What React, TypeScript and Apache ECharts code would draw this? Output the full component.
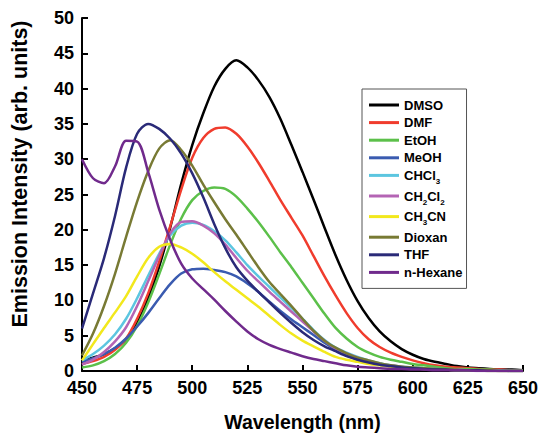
import React, { useEffect, useRef } from "react";
import * as echarts from "echarts";

const wavelengths = [
  450, 455, 460, 465, 470, 475, 480, 485, 490, 495, 500, 505, 510, 515, 520, 525, 530, 535, 540, 545,
  550, 555, 560, 565, 570, 575, 580, 585, 590, 595, 600, 605, 610, 615, 620, 625, 630, 635, 640, 645, 650,
];

const dmso = [
  1.5, 1.9, 2.4, 3.2, 4.5, 6.8, 10.3, 14.8, 20.3, 26.5, 32.0, 36.5, 40.3, 42.8, 44.0, 43.0, 41.2, 38.8, 35.7, 32.0,
  28.2, 24.3, 20.3, 16.4, 12.9, 9.9, 7.5, 5.6, 4.2, 3.1, 2.3, 1.7, 1.3, 1.0, 0.7, 0.5, 0.4, 0.3, 0.2, 0.2, 0.1,
];
const dmf = [
  1.0, 1.4, 2.0, 3.0, 4.6, 7.4, 11.0, 15.5, 20.5, 25.7, 30.2, 33.0, 34.3, 34.5, 33.6, 31.8, 29.5, 26.9, 24.2, 21.7,
  19.2, 16.3, 13.4, 10.7, 8.2, 6.1, 4.5, 3.4, 2.6, 2.0, 1.5, 1.1, 0.8, 0.6, 0.5, 0.4, 0.3, 0.2, 0.2, 0.1, 0.1,
];
const etoh = [
  0.5, 0.8, 1.4, 2.4, 4.0, 6.4, 9.7, 13.7, 17.9, 21.6, 24.2, 25.5, 26.0, 25.8, 24.7, 23.0, 21.1, 19.0, 16.8, 14.7,
  12.5, 10.3, 8.1, 6.1, 4.6, 3.4, 2.6, 2.0, 1.6, 1.3, 1.0, 0.8, 0.6, 0.4, 0.3, 0.3, 0.2, 0.2, 0.1, 0.1, 0.1,
];
const meoh = [
  1.3, 1.8, 2.4, 3.3, 4.6, 6.3, 8.2, 10.3, 12.3, 13.8, 14.4, 14.5, 14.3, 14.0, 13.4, 12.4, 11.2, 9.8, 8.5, 7.3,
  6.2, 5.1, 4.0, 3.0, 2.2, 1.6, 1.2, 0.9, 0.7, 0.5, 0.4, 0.3, 0.2, 0.2, 0.1, 0.1, 0.1, 0.1, 0.1, 0.0, 0.0,
];
const chcl3 = [
  1.5, 2.4, 3.6, 5.2, 7.4, 10.3, 13.5, 16.6, 19.2, 20.6, 21.0, 20.7, 19.8, 18.5, 16.8, 15.0, 13.4, 11.9, 10.4, 8.9,
  7.4, 5.8, 4.4, 3.3, 2.6, 2.0, 1.5, 1.1, 0.8, 0.6, 0.5, 0.4, 0.3, 0.2, 0.2, 0.1, 0.1, 0.1, 0.1, 0.0, 0.0,
];
const ch2cl2 = [
  0.9, 1.6, 2.7, 4.2, 6.2, 9.2, 12.7, 16.3, 19.5, 21.1, 21.2, 20.6, 19.5, 17.9, 16.0, 14.2, 12.7, 11.2, 9.8, 8.4,
  7.0, 5.6, 4.3, 3.2, 2.5, 1.9, 1.4, 1.0, 0.8, 0.6, 0.4, 0.3, 0.3, 0.2, 0.2, 0.1, 0.1, 0.1, 0.0, 0.0, 0.0,
];
const ch3cn = [
  1.5, 3.8, 6.1, 8.3, 10.6, 13.4, 16.0, 17.6, 18.0, 17.5, 16.6, 15.4, 14.0, 12.7, 11.5, 10.3, 9.1, 7.8, 6.5, 5.3,
  4.3, 3.5, 2.7, 2.0, 1.6, 1.3, 1.0, 0.8, 0.6, 0.5, 0.4, 0.3, 0.2, 0.2, 0.1, 0.1, 0.1, 0.0, 0.0, 0.0, 0.0,
];
const dioxan = [
  2.2, 5.3, 9.2, 13.8, 19.0, 24.0, 28.3, 31.5, 32.7, 31.3, 29.1, 26.4, 23.9, 21.5, 19.3, 17.0, 14.7, 12.6, 10.9, 9.2,
  7.4, 5.7, 4.3, 3.3, 2.5, 1.9, 1.5, 1.1, 0.8, 0.6, 0.5, 0.4, 0.3, 0.2, 0.2, 0.1, 0.1, 0.1, 0.0, 0.0, 0.0,
];
const thf = [
  6.0, 11.0, 16.0, 22.0, 28.8, 33.6, 35.0, 34.3, 32.9, 30.8, 28.0, 24.6, 20.8, 17.4, 14.7, 12.8, 11.2, 9.7, 8.2, 6.8,
  5.5, 4.4, 3.5, 2.8, 2.1, 1.6, 1.2, 0.9, 0.7, 0.5, 0.4, 0.3, 0.2, 0.2, 0.1, 0.1, 0.1, 0.0, 0.0, 0.0, 0.0,
];
const nHexane = [
  30.0, 27.3, 26.6, 29.0, 32.6, 32.5, 28.2, 22.9, 18.6, 15.2, 13.1, 11.6, 10.1, 8.5, 7.0, 5.6, 4.5, 3.7, 3.1, 2.6,
  2.1, 1.7, 1.4, 1.1, 0.8, 0.6, 0.5, 0.4, 0.3, 0.3, 0.2, 0.2, 0.1, 0.1, 0.1, 0.1, 0.0, 0.0, 0.0, 0.0, 0.0,
];

const seriesNames = ["DMSO", "DMF", "EtOH", "MeOH", "CHCl3", "CH2Cl2", "CH3CN", "Dioxan", "THF", "n-Hexane"];
const seriesValues = [dmso, dmf, etoh, meoh, chcl3, ch2cl2, ch3cn, dioxan, thf, nHexane];
const seriesColors = [
  "#000000", "#f03c2d", "#5cc04a", "#3a5bb0", "#5cc6e0", "#b464b4", "#f2e81c", "#787a34", "#2a2a78", "#702a8c",
];
const legendLabels: Record<string, string> = {
  CHCl3: "{m|CHCl}{s|3}",
  CH2Cl2: "{m|CH}{s|2}{m|Cl}{s|2}",
  CH3CN: "{m|CH}{s|3}{m|CN}",
};

const xTicks = { min: 450, max: 650, interval: 25 };
const yTicks = { min: 0, max: 50, interval: 5 };

const FONT = "'Liberation Sans', Arial, Helvetica, sans-serif";

export default function App() {
  const ref = useRef<HTMLDivElement>(null);
  useEffect(() => {
    if (!ref.current) return;
    const chart = echarts.init(ref.current, undefined, { renderer: "svg" });
    const series = seriesNames.map((name, i) => ({
      name,
      type: "line",
      data: wavelengths.map((w, j) => [w, seriesValues[i][j]]),
      showSymbol: false,
      symbol: "none",
      smooth: 0.3,
      lineStyle: { color: seriesColors[i], width: 2.5 },
      itemStyle: { color: seriesColors[i] },
      z: 2,
    }));
    chart.setOption({
      animation: false,
      backgroundColor: "#ffffff",
      grid: { left: 82, right: 17, top: 18, bottom: 62, containLabel: false },
      xAxis: {
        type: "value",
        min: xTicks.min,
        max: xTicks.max,
        interval: xTicks.interval,
        name: "Wavelength (nm)",
        nameLocation: "middle",
        nameGap: 41,
        nameTextStyle: { fontFamily: FONT, fontWeight: "bold", fontSize: 19.5, color: "#000" },
        axisLine: { show: true, lineStyle: { color: "#000", width: 2 } },
        axisTick: { show: true, inside: true, length: 6, lineStyle: { color: "#000", width: 2 } },
        axisLabel: { fontFamily: FONT, fontWeight: "bold", fontSize: 18, lineHeight: 14, color: "#000", margin: 10 },
        splitLine: { show: false },
      },
      yAxis: {
        type: "value",
        min: yTicks.min,
        max: yTicks.max,
        interval: yTicks.interval,
        axisLine: { show: true, lineStyle: { color: "#000", width: 2 } },
        axisTick: { show: true, inside: true, length: 6, lineStyle: { color: "#000", width: 2 } },
        axisLabel: { fontFamily: FONT, fontWeight: "bold", fontSize: 18, lineHeight: 12, color: "#000", margin: 8 },
        splitLine: { show: false },
      },
      legend: {
        orient: "vertical",
        left: 362,
        top: 89,
        padding: [9, 4, 9, 7],
        itemGap: 3.6,
        itemWidth: 30,
        itemHeight: 3,
        icon: "rect",
        backgroundColor: "#ffffff",
        borderColor: "#555555",
        borderWidth: 1,
        borderRadius: 0,
        data: seriesNames,
        formatter: (name: string) => legendLabels[name] || `{m|${name}}`,
        textStyle: {
          fontFamily: FONT,
          fontWeight: "bold",
          fontSize: 13,
          color: "#000",
          lineHeight: 14,
          rich: {
            m: { fontFamily: FONT, fontWeight: "bold", fontSize: 13, color: "#000", lineHeight: 14 },
            s: {
              fontFamily: FONT,
              fontWeight: "bold",
              fontSize: 8,
              color: "#000",
              lineHeight: 14,
              verticalAlign: "bottom",
              padding: [0, 0, -3, 0],
            },
          },
        },
      },
      graphic: [
        {
          type: "text",
          x: 20,
          y: 174,
          rotation: Math.PI / 2,
          style: {
            text: "Emission Intensity (arb. units)",
            fontFamily: FONT,
            fontWeight: "bold",
            fontSize: 21.5,
            fill: "#000",
            textAlign: "center",
            textVerticalAlign: "middle",
          },
        },
      ],
      series,
    });
    return () => chart.dispose();
  }, []);
  return (
    <div
      ref={ref}
      style={{ position: "fixed", left: 0, top: 0, width: 541, height: 437, background: "#fff" }}
    />
  );
}
